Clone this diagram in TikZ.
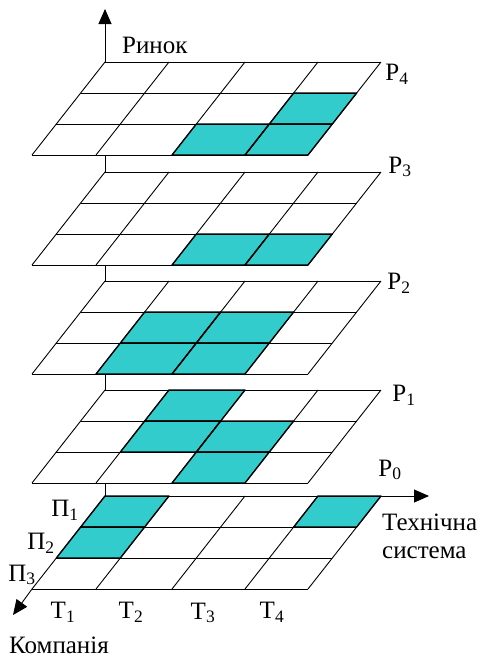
\documentclass[tikz,border=0pt]{standalone}
\usepackage{fontspec}
\setmainfont{Liberation Serif}
\usetikzlibrary{arrows.meta,calc}
\definecolor{CellTeal}{RGB}{51,204,204}

\begin{document}
\begin{tikzpicture}[x=1pt, y=-1pt, >={Triangle[length=15pt,width=13pt]}]
    \tikzstyle{grid}=[line width=0.9pt]
    \tikzstyle{cell}=[fill=CellTeal, draw=black, line width=1.3pt, line join=round]
    \tikzstyle{lbl}=[font=\fontsize{25}{28}\selectfont, inner sep=0pt]
    \useasboundingbox (0,0) rectangle (480,659);

    % corners of the cells, one set per layer
    \foreach \k/\ty in {4/62,3/172,2/281,1/390,0/496}{
        \foreach \r in {0,...,3}
            \foreach \c/\cx in {0/0,1/64,2/140,3/213,4/276}
                \coordinate (p\k-\r-\c) at ({105+\cx-24.33*\r},{\ty+31*\r});
    }

    % white planes
    \foreach \k in {0,...,4}
        \fill[white] (p\k-0-0) -- (p\k-0-4) -- (p\k-3-4) -- (p\k-3-0) -- cycle;

    % filled cells: layer/row/column
    \foreach \k/\r/\c [evaluate=\r as \rr using int(\r+1), evaluate=\c as \cc using int(\c+1)] in
        {4/1/3,4/2/2,4/2/3, 3/2/2,3/2/3, 2/1/1,2/1/2,2/2/1,2/2/2,
         1/0/1,1/1/1,1/1/2,1/2/2, 0/0/0,0/1/0,0/0/3}
        \fill[CellTeal] (p\k-\r-\c) -- (p\k-\r-\cc) -- (p\k-\rr-\cc) -- (p\k-\rr-\c) -- cycle;

    % grid lines
    \foreach \k in {0,...,4}{
        \foreach \r in {0,...,3}
            \draw[grid] (p\k-\r-0) -- (p\k-\r-4);
        \foreach \c in {0,...,4}
            \draw[grid] (p\k-0-\c) -- (p\k-3-\c);
    }

    % outlines of the filled cells
    \foreach \k/\r/\c [evaluate=\r as \rr using int(\r+1), evaluate=\c as \cc using int(\c+1)] in
        {4/1/3,4/2/2,4/2/3, 3/2/2,3/2/3, 2/1/1,2/1/2,2/2/1,2/2/2,
         1/0/1,1/1/1,1/1/2,1/2/2, 0/0/0,0/1/0,0/0/3}
        \draw[cell, fill=none] (p\k-\r-\c) -- (p\k-\r-\cc) -- (p\k-\rr-\cc) -- (p\k-\rr-\c) -- cycle;

    % posts between the layers
    \foreach \j/\k in {0/1,1/2,2/3,3/4}
        \draw[grid] (p\j-0-0) -- (p\j-0-0 |- p\k-3-0);

    % axes
    \coordinate (upEnd) at (105,9);
    \coordinate (rightEnd) at (429,496);
    \coordinate (leftEnd) at (13,615);
    \draw[grid, ->] (p4-0-0) -- (upEnd);
    \draw[grid, ->] (p0-0-4) -- (rightEnd);
    \draw[grid, ->] (p0-3-0) -- (leftEnd);

    \node[lbl, anchor=west] (market) at (122,45) {Ринок};
    \node[lbl] (r4) at (397,74) {Р\textsubscript{4}};
    \node[lbl] (r3) at (400,167) {Р\textsubscript{3}};
    \node[lbl] (r2) at (399,283) {Р\textsubscript{2}};
    \node[lbl] (r1) at (404,395) {Р\textsubscript{1}};
    \node[lbl] (r0) at (390,470) {Р\textsubscript{0}};

    \node[lbl] (pi1) at (65,510) {П\textsubscript{1}};
    \node[lbl] (pi2) at (41,543) {П\textsubscript{2}};
    \node[lbl] (pi3) at (22,575) {П\textsubscript{3}};

    \node[lbl] (t1) at (63,612) {Т\textsubscript{1}};
    \node[lbl] (t2) at (131,612) {Т\textsubscript{2}};
    \node[lbl] (t3) at (203,613) {Т\textsubscript{3}};
    \node[lbl] (t4) at (272,612) {Т\textsubscript{4}};

    \node[lbl, anchor=west] (tech) at (382,522) {Технічна};
    \node[lbl, anchor=west] (sys) at (382,553) {система};
    \node[lbl, anchor=west] (company) at (9,645) {Компанія};
\end{tikzpicture}
\end{document}
